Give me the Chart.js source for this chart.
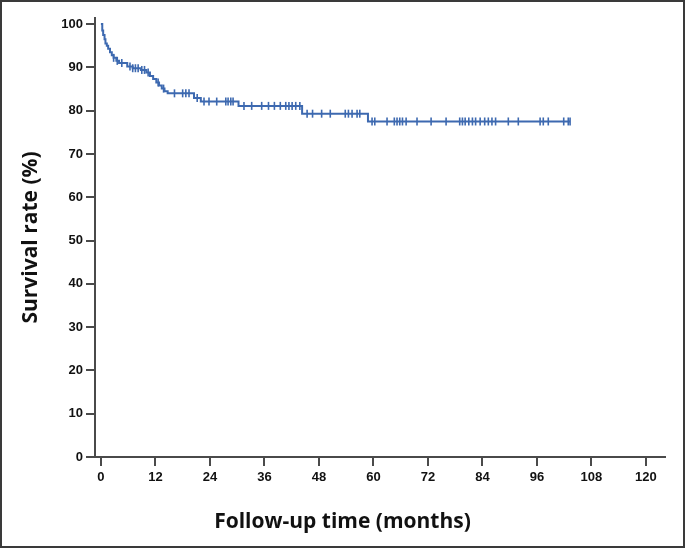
<!DOCTYPE html>
<html>
<head>
<meta charset="utf-8">
<script src="https://cdn.jsdelivr.net/npm/chart.js@4.4.1/dist/chart.umd.min.js"></script>
<style>
  html, body { margin: 0; padding: 0; background: #fff; }
  #wrap { position: relative; width: 685px; height: 548px; }
  #frame { position: absolute; left: 0; top: 0; width: 685px; height: 548px; box-sizing: border-box; border: 2px solid #3a3a3a; pointer-events: none; }
</style>
</head>
<body>
<div id="wrap">
  <canvas id="km-chart" width="685" height="548"></canvas>
  <div id="frame"></div>
</div>
<script>
// tiempos de evento (meses) y supervivencia (%) despues de cada evento
const eventTimes = [0, 0.3, 0.5, 0.8, 1.0, 1.3, 1.6, 2.0, 2.4, 2.8, 3.4, 4.0, 5.8, 7.0, 8.8, 10.0, 10.8, 11.5, 12.2, 12.8, 13.4, 14.0, 14.7, 20.5, 22.0, 30.3, 44.3, 58.8];
const eventSurv = [100, 98.5, 97.5, 96.5, 95.5, 95.0, 94.3, 93.5, 92.8, 92.2, 91.5, 91.0, 90.2, 89.8, 89.4, 88.8, 88.0, 87.3, 86.5, 85.8, 85.1, 84.5, 84.0, 82.9, 82.1, 81.1, 79.3, 77.5];

// casos censurados (meses)
const censorTimes = [2.8, 3.6, 4.6, 6.4, 7.0, 7.6, 8.2, 9.0, 9.6, 10.4, 12.6, 13.8,
  16.2, 18.0, 18.7, 19.4, 21.2,
  22.7, 23.8, 25.5, 27.5, 28.0, 28.6, 29.1,
  31.5, 33.2, 35.4, 36.9, 38.2, 39.5, 40.7, 41.4, 42.1, 42.9, 43.8,
  45.4, 46.6, 48.6, 50.5, 53.8, 54.5, 55.3, 56.4, 57.0,
  59.7, 60.3, 63.0, 64.6, 65.2, 65.8, 66.4, 67.2, 69.6, 72.7, 76.0, 79.0, 79.6, 80.2, 81.0, 81.8,
  82.5, 83.5, 84.5, 85.3, 86.1, 86.9, 89.7, 91.9, 96.7, 97.4, 98.5, 101.9, 102.9, 103.3];

const xTicks = [0, 12, 24, 36, 48, 60, 72, 84, 96, 108, 120];
const yTicks = [0, 10, 20, 30, 40, 50, 60, 70, 80, 90, 100];

const xTitle = "Follow-up time (months)";
const yTitle = "Survival rate (%)";

// supervivencia en un tiempo dado (lectura de la escalera)
function survAt(t) {
  let s = eventSurv[0];
  for (let i = 0; i < eventTimes.length; i++) {
    if (eventTimes[i] <= t) s = eventSurv[i];
  }
  return s;
}

const curvePoints = eventTimes.map((t, i) => ({ x: t, y: eventSurv[i] }));
const lastT = censorTimes[censorTimes.length - 1];
curvePoints.push({ x: lastT, y: survAt(lastT) });

const censorPoints = censorTimes.map(t => ({ x: t, y: survAt(t) }));

const blue = "#3d69b0";
const axisColor = "#4a4a4a";
const tickFont = { family: "'Liberation Sans', Arial, sans-serif", size: 13, weight: "bold" };
const titleFont = { family: "'Open Sans', sans-serif", size: 21, weight: "bold" };

// el titulo del eje x va centrado en toda la imagen, no en el area del grafico
const xTitlePlugin = {
  id: "xTitle",
  afterDraw(chart) {
    const c = chart.ctx;
    c.save();
    c.font = "bold 21px 'Open Sans', sans-serif";
    c.fillStyle = "#111";
    c.textAlign = "center";
    c.textBaseline = "middle";
    c.fillText(xTitle, chart.width / 2, 522);
    c.restore();
  },
};

const ctx = document.querySelector("#km-chart").getContext("2d");

const kmChart = new Chart(ctx, {
  type: "line",
  data: {
    datasets: [
      {
        data: curvePoints,
        stepped: true,
        borderColor: blue,
        borderWidth: 2,
        pointRadius: 0,
        fill: false,
      },
      {
        data: censorPoints,
        showLine: false,
        pointStyle: "line",
        rotation: 90,
        pointRadius: 4,
        borderColor: blue,
        borderWidth: 1.6,
      },
    ],
  },
  options: {
    responsive: false,
    animation: false,
    events: [],
    layout: { padding: { left: 0, top: 18, right: 20, bottom: 0 } },
    plugins: { legend: { display: false }, tooltip: { enabled: false } },
    scales: {
      x: {
        type: "linear",
        min: -1.3,
        max: 124.2,
        afterBuildTicks: axis => { axis.ticks = xTicks.map(v => ({ value: v })); },
        afterFit: axis => { axis.height = 91; },
        grid: { drawOnChartArea: false, drawTicks: true, tickLength: 9, color: axisColor, lineWidth: 2 },
        border: { color: axisColor, width: 2 },
        ticks: { color: "#111", font: tickFont, padding: 4, maxRotation: 0, autoSkip: false },
        title: { display: false },
      },
      y: {
        type: "linear",
        min: 0,
        max: 101.4,
        afterBuildTicks: axis => { axis.ticks = yTicks.map(v => ({ value: v })); },
        afterFit: axis => { axis.width = 95; },
        grid: { drawOnChartArea: false, drawTicks: true, tickLength: 9, color: axisColor, lineWidth: 2 },
        border: { color: axisColor, width: 2 },
        ticks: { color: "#111", font: tickFont, padding: 3, autoSkip: false },
        title: { display: true, text: yTitle, color: "#111", font: titleFont, padding: { top: 18, bottom: 0 } },
      },
    },
  },
  plugins: [xTitlePlugin],
});
</script>
</body>
</html>
